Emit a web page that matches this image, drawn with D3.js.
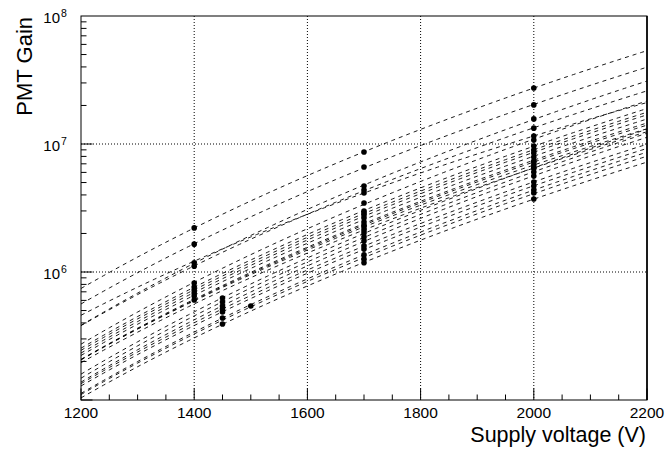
<!DOCTYPE html>
<html><head><meta charset="utf-8">
<script src="https://cdn.jsdelivr.net/npm/d3@7"></script>
<style>body{margin:0;background:#fff}svg{display:block}text{font-family:"Liberation Sans",Arial,sans-serif;fill:#000}</style>
</head><body>
<script>
const lowV     = [1400,1400,1400,1400,1400,1400,1400,1400,1400,1400,1450,1450,1450,1450,1450,1450,1450,1500,null,null,null,null];
const gainLow  = [2.21e6,1.65e6,1.18e6,1.11e6,8.21e5,7.63e5,7.23e5,6.85e5,6.49e5,6.04e5,6.27e5,5.83e5,5.43e5,5.14e5,4.87e5,4.37e5,3.92e5,5.43e5,null,null,null,null];
const gain1700 = [8.66e6,6.61e6,4.70e6,4.37e6,3.46e6,3.00e6,2.89e6,2.79e6,2.64e6,2.46e6,2.02e6,1.88e6,1.75e6,1.60e6,1.51e6,1.36e6,1.18e6,1.26e6,4.14e6,2.33e6,2.25e6,2.13e6];
const gain2000 = [2.74e7,2.02e7,1.57e7,1.33e7,1.075e7,9.65e6,8.98e6,8.51e6,7.91e6,7.36e6,6.49e6,6.04e6,5.62e6,5.05e6,4.70e6,4.37e6,3.72e6,4.14e6,1.155e7,7.23e6,6.85e6,6.49e6];
const xTicks = [1200,1400,1600,1800,2000,2200];
const yTickExps = [6,7,8];
const xGrid = [1400,1600,1800,2000];
const yGrid = [1e6,1e7];

const W=668,H=451, L=81,R=647,T=16,B=400;
const svg=d3.select("body").append("svg").attr("width",W).attr("height",H);
svg.append("rect").attr("width",W).attr("height",H).attr("fill","#fff");
const x=d3.scaleLinear().domain([1200,2200]).range([L,R]);
const y=d3.scaleLog().domain([1e5,1e8]).range([B,T]);

svg.append("clipPath").attr("id","c").append("rect").attr("x",L).attr("y",T).attr("width",R-L).attr("height",B-T);

// grid
const g=svg.append("g").attr("stroke","#000").attr("stroke-width",1).attr("stroke-dasharray","1,2");
xGrid.forEach(v=>g.append("line").attr("x1",x(v)).attr("x2",x(v)).attr("y1",T).attr("y2",B));
yGrid.forEach(v=>g.append("line").attr("x1",L).attr("x2",R).attr("y1",y(v)).attr("y2",y(v)));

// fits: power law G = a*V^b via least squares in log-log
const pmts=gain1700.map((_,i)=>{
  const pts=[];
  if(lowV[i]!=null) pts.push([lowV[i],gainLow[i]]);
  pts.push([1700,gain1700[i]]);
  pts.push([2000,gain2000[i]]);
  return pts;
});
const volts=d3.range(1200,2201,10);
const line=d3.line().x(d=>x(d[0])).y(d=>y(d[1]));
const lg=svg.append("g").attr("clip-path","url(#c)");
pmts.forEach(pts=>{
  const X=pts.map(p=>Math.log(p[0])), Y=pts.map(p=>Math.log(p[1]));
  const mx=d3.mean(X), my=d3.mean(Y);
  const b=d3.sum(X.map((v,k)=>(v-mx)*(Y[k]-my)))/d3.sum(X.map(v=>(v-mx)*(v-mx)));
  const a=my-b*mx;
  lg.append("path").datum(volts.map(v=>[v,Math.exp(a+b*Math.log(v))]))
    .attr("d",line).attr("fill","none").attr("stroke","#000").attr("stroke-width",0.9)
    .attr("stroke-dasharray","4,4");
});
// markers
const mg=svg.append("g");
pmts.forEach(pts=>pts.forEach(p=>mg.append("circle").attr("cx",x(p[0])).attr("cy",y(p[1])).attr("r",2.8).attr("fill","#000")));

// frame
svg.append("rect").attr("x",L).attr("y",T).attr("width",R-L).attr("height",B-T).attr("fill","none").attr("stroke","#000").attr("stroke-width",1);
svg.append("line").attr("x1",R).attr("x2",R).attr("y1",T).attr("y2",B).attr("stroke","#000").attr("stroke-width",1.6);

// x ticks
const tk=svg.append("g").attr("stroke","#000").attr("stroke-width",1);
d3.range(1200,2201,50).forEach(v=>{
  const major=v%200===0;
  tk.append("line").attr("x1",x(v)).attr("x2",x(v)).attr("y1",B).attr("y2",B-(major?11.5:5.5));
});
// y ticks
[5,6,7].forEach(e=>{
  for(let m=1;m<10;m++){
    const v=m*Math.pow(10,e);
    if(v<1e5||v>1e8) continue;
    tk.append("line").attr("x1",L).attr("x2",L+(m===1?11.5:5.5)).attr("y1",y(v)).attr("y2",y(v));
  }
});
// labels
xTicks.forEach(v=>svg.append("text").attr("x",x(v)).attr("y",418).attr("text-anchor","middle").attr("font-size",15.5).text(v));
yTickExps.forEach(e=>{
  const yy=y(Math.pow(10,e));
  svg.append("text").attr("x",60).attr("y",yy+7).attr("text-anchor","end").attr("font-size",15).text("10");
  svg.append("text").attr("x",61).attr("y",yy+0.5).attr("font-size",10.5).text(e);
});
svg.append("text").attr("x",646).attr("y",442).attr("text-anchor","end").attr("font-size",21.5).text("Supply voltage (V)");
svg.append("text").attr("transform","translate(32,17) rotate(-90)").attr("text-anchor","end").attr("font-size",22).text("PMT Gain");
</script>
</body></html>
